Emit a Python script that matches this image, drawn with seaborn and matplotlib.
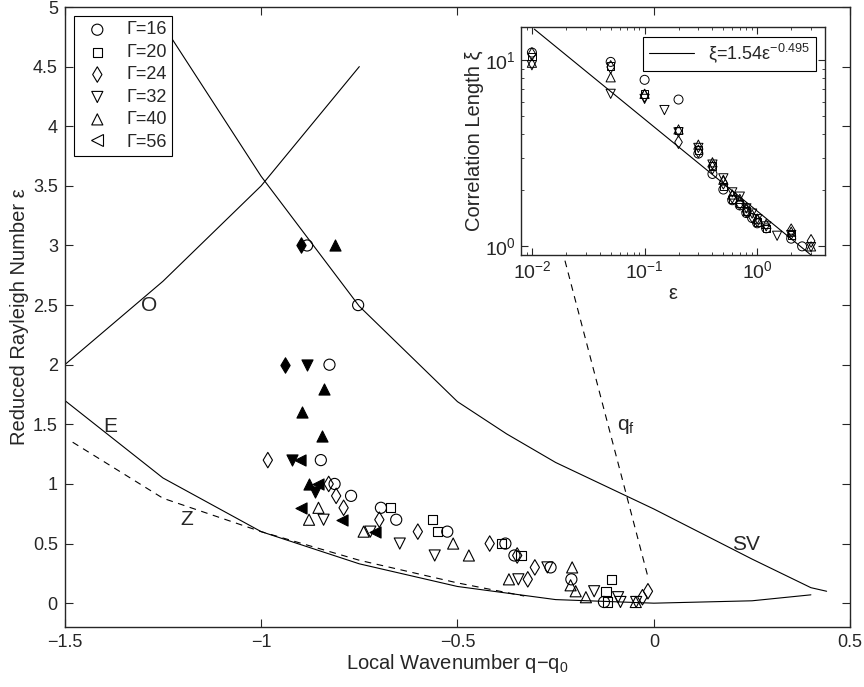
import matplotlib
matplotlib.use('Agg')
import matplotlib.pyplot as plt
import seaborn as sns
from matplotlib.lines import Line2D
from matplotlib.ticker import FuncFormatter, LogLocator, NullFormatter, MultipleLocator

# ---- boundary curves ----
sv_q = [-1.25, -1.0, -0.75, -0.5, -0.375, -0.25, 0.0, 0.25, 0.4, 0.44]
sv_eps = [4.85, 3.58, 2.49, 1.69, 1.42, 1.18, 0.79, 0.37, 0.13, 0.10]

o_q = [-1.5, -1.25, -1.0, -0.75]
o_eps = [2.0, 2.7, 3.5, 4.5]

e_q = [-1.5, -1.25, -1.0, -0.75, -0.5, -0.25, 0.0, 0.25, 0.4]
e_eps = [1.7, 1.05, 0.6, 0.33, 0.14, 0.03, 0.0, 0.02, 0.07]

z_q = [-1.48, -1.25, -1.0, -0.75, -0.5, -0.33]
z_eps = [1.35, 0.88, 0.6, 0.36, 0.17, 0.06]

qf_q = [-0.25, -0.015]
qf_eps = [3.17, 0.22]

# ---- measured wavenumbers, open symbols ----
g16_q = [-0.883, -0.753, -0.826, -0.848, -0.813, -0.771, -0.695, -0.656, -0.526, -0.378, -0.355, -0.263, -0.210, -0.127]
g16_eps = [3.0, 2.5, 2.0, 1.2, 1.0, 0.9, 0.8, 0.7, 0.6, 0.5, 0.4, 0.3, 0.2, 0.01]

g20_q = [-0.671, -0.563, -0.550, -0.388, -0.338, -0.108, -0.122, -0.118]
g20_eps = [0.8, 0.7, 0.6, 0.5, 0.4, 0.2, 0.1, 0.01]

g24_q = [-0.983, -0.828, -0.809, -0.790, -0.699, -0.601, -0.418, -0.348, -0.303, -0.321, -0.015, -0.029]
g24_eps = [1.2, 1.0, 0.9, 0.8, 0.7, 0.6, 0.5, 0.4, 0.3, 0.2, 0.1, 0.05]

g32_q = [-0.841, -0.722, -0.647, -0.558, -0.271, -0.345, -0.152, -0.091, -0.085, -0.045]
g32_eps = [0.7, 0.6, 0.5, 0.4, 0.3, 0.2, 0.1, 0.05, 0.01, 0.01]

g40_q = [-0.854, -0.878, -0.739, -0.511, -0.471, -0.369, -0.208, -0.212, -0.199, -0.173, -0.046]
g40_eps = [0.8, 0.7, 0.6, 0.5, 0.4, 0.2, 0.3, 0.15, 0.1, 0.05, 0.01]

# ---- filled symbols ----
g24f_q = [-0.898, -0.939]
g24f_eps = [3.0, 2.0]
g32f_q = [-0.883, -0.922, -0.862]
g32f_eps = [2.0, 1.2, 0.93]
g40f_q = [-0.811, -0.841, -0.896, -0.844, -0.879]
g40f_eps = [3.0, 1.8, 1.6, 1.4, 1.0]
g56f_q = [-0.900, -0.854, -0.898, -0.793, -0.711]
g56f_eps = [1.2, 1.0, 0.8, 0.7, 0.6]

# ---- inset: correlation length ----
in16_eps = [0.01, 0.05, 0.1, 0.2, 0.3, 0.4, 0.5, 0.6, 0.7, 0.8, 0.9, 1.0, 1.2, 2.0, 2.5]
in16_xi = [11.0, 9.8, 7.85, 6.15, 3.15, 2.45, 2.02, 1.77, 1.66, 1.51, 1.42, 1.33, 1.25, 1.1, 1.0]
in20_eps = [0.01, 0.05, 0.1, 0.2, 0.3, 0.4, 0.5, 0.6, 0.7, 0.8, 1.0, 1.2, 2.0]
in20_xi = [10.5, 9.3, 6.6, 4.2, 3.3, 2.7, 2.1, 1.8, 1.7, 1.55, 1.35, 1.25, 1.15]
in24_eps = [0.01, 0.05, 0.1, 0.2, 0.3, 0.4, 0.5, 0.6, 0.7, 0.8, 0.9, 1.0, 2.0, 3.0]
in24_xi = [10.8, 9.2, 6.45, 3.63, 3.24, 2.65, 2.2, 1.85, 1.7, 1.55, 1.45, 1.38, 1.22, 1.07]
in32_eps = [0.01, 0.05, 0.1, 0.15, 0.2, 0.3, 0.4, 0.5, 0.6, 0.7, 0.8, 0.9, 1.0, 1.2, 1.5, 2.0, 3.0]
in32_xi = [9.4, 6.6, 6.2, 5.4, 4.1, 3.38, 2.75, 2.32, 1.95, 1.85, 1.6, 1.5, 1.4, 1.28, 1.14, 1.15, 0.99]
in40_eps = [0.01, 0.05, 0.1, 0.2, 0.3, 0.4, 0.5, 0.6, 0.7, 0.8, 1.0, 1.2, 2.0, 3.0]
in40_xi = [9.7, 8.1, 6.6, 4.25, 3.52, 2.83, 2.28, 1.9, 1.8, 1.62, 1.4, 1.32, 1.2, 1.0]

fit_eps = [0.0105, 3.2]
fit_xi = [14.7, 0.87]

labels = ['Γ=16', 'Γ=20', 'Γ=24', 'Γ=32', 'Γ=40', 'Γ=56']
markers = ['o', 's', 'd', 'v', '^', '<']
sizes = [64, 44, 62, 64, 64, 64]

sns.set_style('ticks')
plt.rcParams['font.family'] = ['Liberation Sans', 'DejaVu Sans']
plt.rcParams['mathtext.fontset'] = 'custom'
plt.rcParams['mathtext.rm'] = 'Liberation Sans'
plt.rcParams['mathtext.it'] = 'Liberation Sans'
plt.rcParams['axes.linewidth'] = 1.0

fig = plt.figure(figsize=(8.64, 6.87), dpi=100)
ax = fig.add_axes([0.075, 0.0873, 0.909, 0.9025])

# curves
sns.lineplot(x=sv_q, y=sv_eps, ax=ax, color='k', lw=0.8, sort=False)
sns.lineplot(x=o_q, y=o_eps, ax=ax, color='k', lw=0.8, sort=False)
sns.lineplot(x=e_q, y=e_eps, ax=ax, color='k', lw=0.8, sort=False)
sns.lineplot(x=z_q, y=z_eps, ax=ax, color='k', lw=0.8, sort=False, linestyle=(0, (6, 5)))
sns.lineplot(x=qf_q, y=qf_eps, ax=ax, color='k', lw=0.8, sort=False, linestyle=(0, (6, 5)))

# open symbols
open_sets = [(g16_q, g16_eps), (g20_q, g20_eps), (g24_q, g24_eps),
             (g32_q, g32_eps), (g40_q, g40_eps)]
for (qq, ee), lab, m, s in zip(open_sets, labels, markers, sizes):
    sns.scatterplot(x=qq, y=ee, ax=ax, marker=m, s=s, color='k',
                    facecolors='none', edgecolor='k', linewidth=0.8, label=lab, zorder=3)

# filled symbols
filled_sets = [(g24f_q, g24f_eps, 'd', 62), (g32f_q, g32f_eps, 'v', 64),
               (g40f_q, g40f_eps, '^', 64), (g56f_q, g56f_eps, '<', 64)]
for qq, ee, m, s in filled_sets:
    sns.scatterplot(x=qq, y=ee, ax=ax, marker=m, s=s, color='k',
                    edgecolor='k', linewidth=0.8, zorder=3)

ax.text(-1.285, 2.5, 'O', fontsize=15, ha='center', va='center')
ax.text(-1.385, 1.48, 'E', fontsize=15, ha='center', va='center')
ax.text(-1.19, 0.70, 'Z', fontsize=15, ha='center', va='center')
ax.text(0.235, 0.49, 'SV', fontsize=15, ha='center', va='center')
ax.text(-0.07, 1.48, 'q$_\\mathregular{f}$', fontsize=15, ha='center', va='center')

ax.set_xlim(-1.5, 0.5)
ax.set_ylim(-0.2, 5)
ax.xaxis.set_major_locator(MultipleLocator(0.5))
ax.yaxis.set_major_locator(MultipleLocator(0.5))
fmt = FuncFormatter(lambda v, p: ('%g' % v).replace('-', '\u2212'))
ax.xaxis.set_major_formatter(fmt)
ax.yaxis.set_major_formatter(fmt)
ax.tick_params(direction='in', top=True, right=True, length=6, width=0.8,
               labelsize=13, pad=5)
ax.set_xlabel('Local Wavenumber q\u2212q$_\\mathregular{0}$', fontsize=14.5, labelpad=1)
ax.set_ylabel('Reduced Rayleigh Number ε', fontsize=14.5, labelpad=3)
for sp in ax.spines.values():
    sp.set_visible(True)

handles, labs = ax.get_legend_handles_labels()
handles.append(Line2D([], [], marker='<', ls='none', mfc='none', mec='k', mew=0.8, ms=8))
labs.append(labels[5])
leg = ax.legend(handles, labs, loc='upper left', fontsize=13, frameon=True, fancybox=False,
                edgecolor='k', framealpha=1, labelspacing=0.3, handletextpad=0.6,
                borderaxespad=0.5, borderpad=0.3)
leg.get_frame().set_linewidth(0.8)

# ---- inset ----
ins = fig.add_axes([0.603, 0.629, 0.352, 0.331])
ins_sets = [(in16_eps, in16_xi, 'o', 42), (in20_eps, in20_xi, 's', 28),
            (in24_eps, in24_xi, 'd', 42), (in32_eps, in32_xi, 'v', 44),
            (in40_eps, in40_xi, '^', 44)]
for ee, xx, m, s in ins_sets:
    sns.scatterplot(x=ee, y=xx, ax=ins, marker=m, s=s, color='k',
                    facecolors='none', edgecolor='k', linewidth=0.7, zorder=3)
sns.lineplot(x=fit_eps, y=fit_xi, ax=ins, color='k', lw=0.8,
             label='ξ=1.54ε$^{\\mathregular{-0.495}}$')
ins.set_xscale('log')
ins.set_yscale('log')
ins.set_xlim(0.008, 4)
ins.set_ylim(0.9, 15)
ins.xaxis.set_major_locator(LogLocator(base=10, numticks=5))
ins.yaxis.set_major_locator(LogLocator(base=10, numticks=5))
ins.yaxis.set_minor_formatter(NullFormatter())
ins.tick_params(which='both', direction='in', top=True, right=True, labelsize=14)
ins.tick_params(which='major', length=5, width=0.8)
ins.tick_params(which='minor', length=2.5, width=0.6)
ins.set_xlabel('ε', fontsize=14.5, labelpad=2)
ins.set_ylabel('Correlation Length ξ', fontsize=14.5, labelpad=1)
for sp in ins.spines.values():
    sp.set_visible(True)
il = ins.legend(loc='upper right', fontsize=13, frameon=True, fancybox=False,
                edgecolor='k', framealpha=1, handlelength=2.5, borderaxespad=0.5,
                borderpad=0.3)
il.get_frame().set_linewidth(0.8)

fig.savefig('out.png', dpi=100)
